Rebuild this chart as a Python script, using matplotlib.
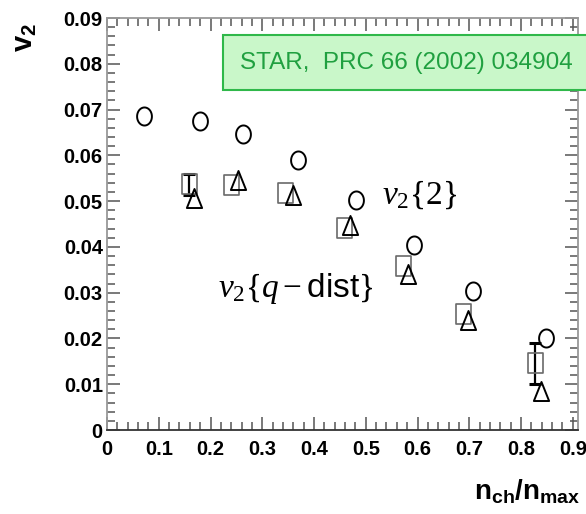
import numpy as np
import matplotlib
matplotlib.use("Agg")
import matplotlib.pyplot as plt
from matplotlib.path import Path
from matplotlib.patches import Rectangle
from matplotlib.ticker import MultipleLocator

plt.rcParams['font.family'] = ['Liberation Sans', 'DejaVu Sans']
plt.rcParams['mathtext.fontset'] = 'custom'
plt.rcParams['mathtext.bf'] = 'Liberation Sans:bold'
plt.rcParams['mathtext.sf'] = 'Liberation Sans'
plt.rcParams['mathtext.rm'] = 'Liberation Serif'
plt.rcParams['mathtext.it'] = 'Liberation Serif:italic'

# v2{2}: circles
x_v2_2 = [0.071, 0.180, 0.263, 0.369, 0.481, 0.593, 0.708, 0.848]
y_v2_2 = [0.0686, 0.0675, 0.0647, 0.0590, 0.0502, 0.0404, 0.0304, 0.0201]

# v2{q-dist}: squares (with errors) and triangles
x_sq = [0.158, 0.239, 0.344, 0.458, 0.571, 0.687, 0.826]
y_sq = [0.0537, 0.0535, 0.0517, 0.0441, 0.0358, 0.0253, 0.0146]
e_sq = [0.0023, 0.0, 0.0, 0.0, 0.0, 0.0, 0.0045]

x_tri = [0.168, 0.253, 0.359, 0.469, 0.581, 0.697, 0.838]
y_tri = [0.0507, 0.0546, 0.0513, 0.0448, 0.0340, 0.0240, 0.0085]

ref_text = "STAR,  PRC 66 (2002) 034904"

# slightly tall markers
t = np.linspace(0, 2 * np.pi, 60)
ellipse = Path(np.column_stack([0.82 * np.cos(t), np.sin(t)]), closed=True)
tall_square = Path([(-0.75, -1), (0.75, -1), (0.75, 1), (-0.75, 1), (-0.75, -1)], closed=True)
tall_tri = Path([(0, 1), (-0.8, -1), (0.8, -1), (0, 1)], closed=True)

W, H = 586, 514
fig = plt.figure(figsize=(W / 100, H / 100), dpi=100)
ax = fig.add_axes([107 / W, 1 - 430 / H, (578 - 107) / W, (430 - 18) / H])

# error bars only where there is an error
has_err = [i for i, e in enumerate(e_sq) if e > 0]
ax.errorbar([x_sq[i] for i in has_err], [y_sq[i] for i in has_err],
            yerr=[e_sq[i] for i in has_err], fmt='none', ecolor='black', elinewidth=1.6,
            capsize=4, capthick=2.2, zorder=2)
ax.plot(x_sq, y_sq, linestyle='none', marker=tall_square, markersize=14.4,
        markerfacecolor='none', markeredgecolor='#6a6a6a', markeredgewidth=1.2, zorder=3)
ax.plot(x_tri, y_tri, linestyle='none', marker=tall_tri, markersize=13.7,
        markerfacecolor='none', markeredgecolor='black', markeredgewidth=1.4, zorder=4)
ax.plot(x_v2_2, y_v2_2, linestyle='none', marker=ellipse, markersize=13,
        markerfacecolor='none', markeredgecolor='black', markeredgewidth=1.4, zorder=4)

ax.set_xlim(0, 0.91)
ax.set_ylim(0, 0.09)
ax.xaxis.set_minor_locator(MultipleLocator(0.02))
ax.yaxis.set_minor_locator(MultipleLocator(0.002))
ax.set_xticks(np.arange(0, 0.91, 0.1))
ax.set_xticklabels(['0', '0.1', '0.2', '0.3', '0.4', '0.5', '0.6', '0.7', '0.8', '0.9'])
ax.set_yticks(np.arange(0, 0.091, 0.01))
ax.set_yticklabels(['0', '0.01', '0.02', '0.03', '0.04', '0.05', '0.06', '0.07', '0.08', '0.09'])

ax.tick_params(which='both', direction='in', top=True, right=True, color='#555555', width=1.1)
ax.tick_params(which='major', length=9.5, labelsize=14.5)
ax.tick_params(which='minor', length=5.5)
ax.tick_params(axis='x', pad=7)
ax.tick_params(axis='y', pad=3)
for lab in ax.get_xticklabels() + ax.get_yticklabels():
    lab.set_fontweight('bold')
for side in ['left', 'top', 'right']:
    ax.spines[side].set_color('#999999')
ax.spines['bottom'].set_color('#333333')
for sp in ax.spines.values():
    sp.set_linewidth(1.3)

# reference box, runs off the right edge
fig.patches.append(Rectangle((223 / W, 1 - 90 / H), 400 / W, 55 / H, transform=fig.transFigure,
                             facecolor='#c9f7c9', edgecolor='#2fb84a', linewidth=1.5, zorder=5))
fig.text(240 / W, 1 - 63 / H, ref_text, color='#20a040', fontsize=17.5, va='center', ha='left',
         zorder=6)

ax.text(0.531, 0.0495, r'$v_2\{2\}$', fontsize=24, ha='left', va='baseline')
ax.text(0.214, 0.0290, r'$v_2\{q-\mathsf{dist}\}$', fontsize=24, ha='left', va='baseline')

fig.text(580 / W, 1 - 500 / H, r'$\mathbf{n_{ch}/n_{max}}$', fontsize=20, ha='right',
         va='baseline')
fig.text(25 / W, 1 - 38 / H, r'$\mathbf{v_2}$', fontsize=21, ha='center', va='center',
         rotation=90)

fig.savefig('out.png', dpi=100)
